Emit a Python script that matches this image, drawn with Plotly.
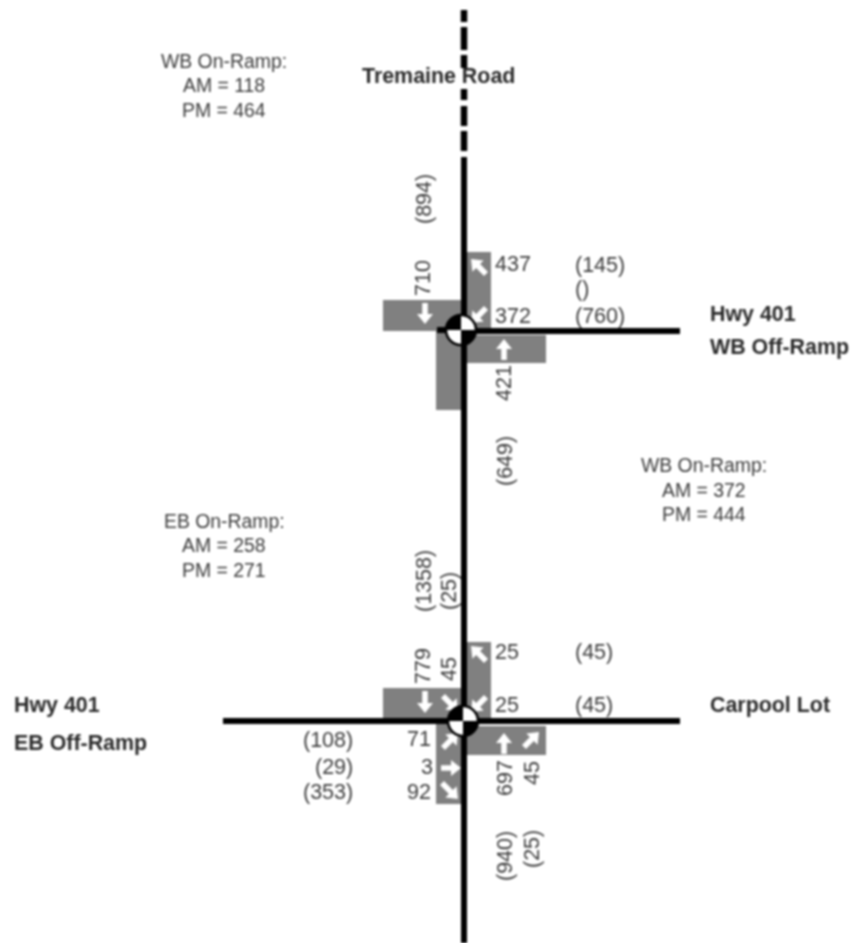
import math
import plotly.graph_objects as go

# ---- content ----
horizontal_labels = ["437", "372", "(145)", "()", "(760)", "25", "25", "(45)", "(45)",
                     "(108)", "71", "(29)", "3", "(353)", "92"]
vertical_labels = ["(894)", "710", "421", "(649)", "(1358)", "(25)", "779", "45",
                   "697", "45", "(940)", "(25)"]
note_labels = ["WB On-Ramp:", "AM = 118", "PM = 464",
               "WB On-Ramp:", "AM = 372", "PM = 444",
               "EB On-Ramp:", "AM = 258", "PM = 271"]
road_labels = ["Tremaine Road", "Hwy 401", "WB Off-Ramp", "Carpool Lot", "Hwy 401", "EB Off-Ramp"]

# ---- placement ----
h_pos = [(513, 264), (513, 316), (600, 265), (582, 289), (600, 316), (507, 652), (507, 705),
         (594, 652), (594, 705), (328, 740), (419, 739), (334, 767), (427, 767), (328, 792), (419, 792)]
v_pos = [(424, 199), (423, 278), (504, 383), (505, 461), (424, 581), (449, 591), (423, 666),
         (449, 669), (505, 778), (532, 773), (505, 856), (532, 849)]
note_pos = [(224, 61), (224, 85), (224, 110), (704, 465), (704, 490), (704, 514),
            (224, 521), (224, 545), (224, 570)]
road_pos = [(360, 76), (708, 314), (708, 347), (708, 705), (12, 705), (12, 743)]
gray_boxes = [(466, 252, 491, 330), (383, 300, 462, 331), (436, 331, 462, 410), (466, 335, 546, 363),
              (466, 642, 491, 720), (383, 688, 462, 719), (436, 724, 462, 804), (466, 726, 546, 755)]
road_segments = [(464, 157, 464, 943), (464, 331, 680, 331), (437, 330, 464, 330), (223, 721, 680, 721)]
dash_segments = [(10, 22), (27, 50), (55, 68), (89, 100), (106, 126), (131, 151)]
centers = [(461, 330), (463, 721)]
# tail x, tail y, tip x, tip y
arrows = [(486, 274, 471, 259), (486, 308, 471, 323), (425, 303, 425, 324), (504, 360, 504, 339),
          (486, 661, 471, 646), (486, 697, 471, 712), (425, 691, 425, 713), (443, 696, 458, 711),
          (443, 748, 458, 733), (441, 768, 461, 768), (442, 783, 458, 799),
          (504, 754, 504, 733), (524, 747, 539, 732)]

TXT = "#3c3c3c"
FONT = "Liberation Sans, Arial, sans-serif"
fig = go.Figure()
fig.add_trace(go.Scatter(x=[0, 851], y=[0, 943], mode="markers", marker=dict(opacity=0), hoverinfo="skip"))

shapes = []
for x0, y0, x1, y1 in gray_boxes:
    shapes.append(dict(type="rect", x0=x0, y0=y0, x1=x1, y1=y1, fillcolor="#808080", line_width=0, layer="below"))
for x0, y0, x1, y1 in road_segments:
    shapes.append(dict(type="line", x0=x0, y0=y0, x1=x1, y1=y1, line=dict(color="black", width=6)))
for y0, y1 in dash_segments:
    shapes.append(dict(type="line", x0=464, y0=y0, x1=464, y1=y1, line=dict(color="black", width=6.5)))


def quad(cx, cy, r, sx, sy, color):
    k = 0.5523 * r
    return dict(type="path", fillcolor=color, line_width=0,
                path=f"M {cx} {cy} L {cx + sx * r} {cy} "
                     f"C {cx + sx * r} {cy + sy * k} {cx + sx * k} {cy + sy * r} {cx} {cy + sy * r} Z")


def arrow_path(x0, y0, x1, y1, shaft=2.8, head=8, head_len=10):
    L = math.hypot(x1 - x0, y1 - y0)
    ux, uy = (x1 - x0) / L, (y1 - y0) / L
    nx, ny = -uy, ux
    bx, by = x1 - ux * head_len, y1 - uy * head_len
    pts = [(x0 + nx * shaft, y0 + ny * shaft), (bx + nx * shaft, by + ny * shaft),
           (bx + nx * head, by + ny * head), (x1, y1),
           (bx - nx * head, by - ny * head), (bx - nx * shaft, by - ny * shaft),
           (x0 - nx * shaft, y0 - ny * shaft)]
    return "M " + " L ".join(f"{a:.1f} {b:.1f}" for a, b in pts) + " Z"


for a in arrows:
    shapes.append(dict(type="path", path=arrow_path(*a), fillcolor="white", line_width=0))
for cx, cy in centers:
    shapes.append(quad(cx, cy, 15, -1, -1, "black"))
    shapes.append(quad(cx, cy, 15, 1, 1, "black"))
    shapes.append(quad(cx, cy, 15, 1, -1, "white"))
    shapes.append(quad(cx, cy, 15, -1, 1, "white"))
    shapes.append(dict(type="circle", x0=cx - 15, y0=cy - 15, x1=cx + 15, y1=cy + 15,
                       line=dict(color="black", width=2.5)))

ann = []
for t, (x, y) in zip(horizontal_labels, h_pos):
    ann.append(dict(x=x, y=y, text=t, showarrow=False, font=dict(size=21.5, color=TXT, family=FONT)))
for t, (x, y) in zip(vertical_labels, v_pos):
    ann.append(dict(x=x, y=y, text=t, textangle=-90, showarrow=False, font=dict(size=21.5, color=TXT, family=FONT)))
for t, (x, y) in zip(note_labels, note_pos):
    ann.append(dict(x=x, y=y, text=t, showarrow=False, font=dict(size=19.4, color=TXT, family=FONT)))
for t, (x, y) in zip(road_labels, road_pos):
    ann.append(dict(x=x, y=y, text=f"<b>{t}</b>", showarrow=False, xanchor="left", font=dict(size=21.4, color="#2a2a2a", family=FONT)))

fig.update_layout(width=851, height=943, margin=dict(l=0, r=0, t=0, b=0), showlegend=False,
                  paper_bgcolor="white", plot_bgcolor="white", shapes=shapes, annotations=ann,
                  xaxis=dict(range=[0, 851], visible=False, fixedrange=True),
                  yaxis=dict(range=[943, 0], visible=False, fixedrange=True))
fig.write_html("out.html", config=dict(displayModeBar=False),
               post_script="document.body.style.margin='0';document.body.style.filter='blur(0.9px)';")
